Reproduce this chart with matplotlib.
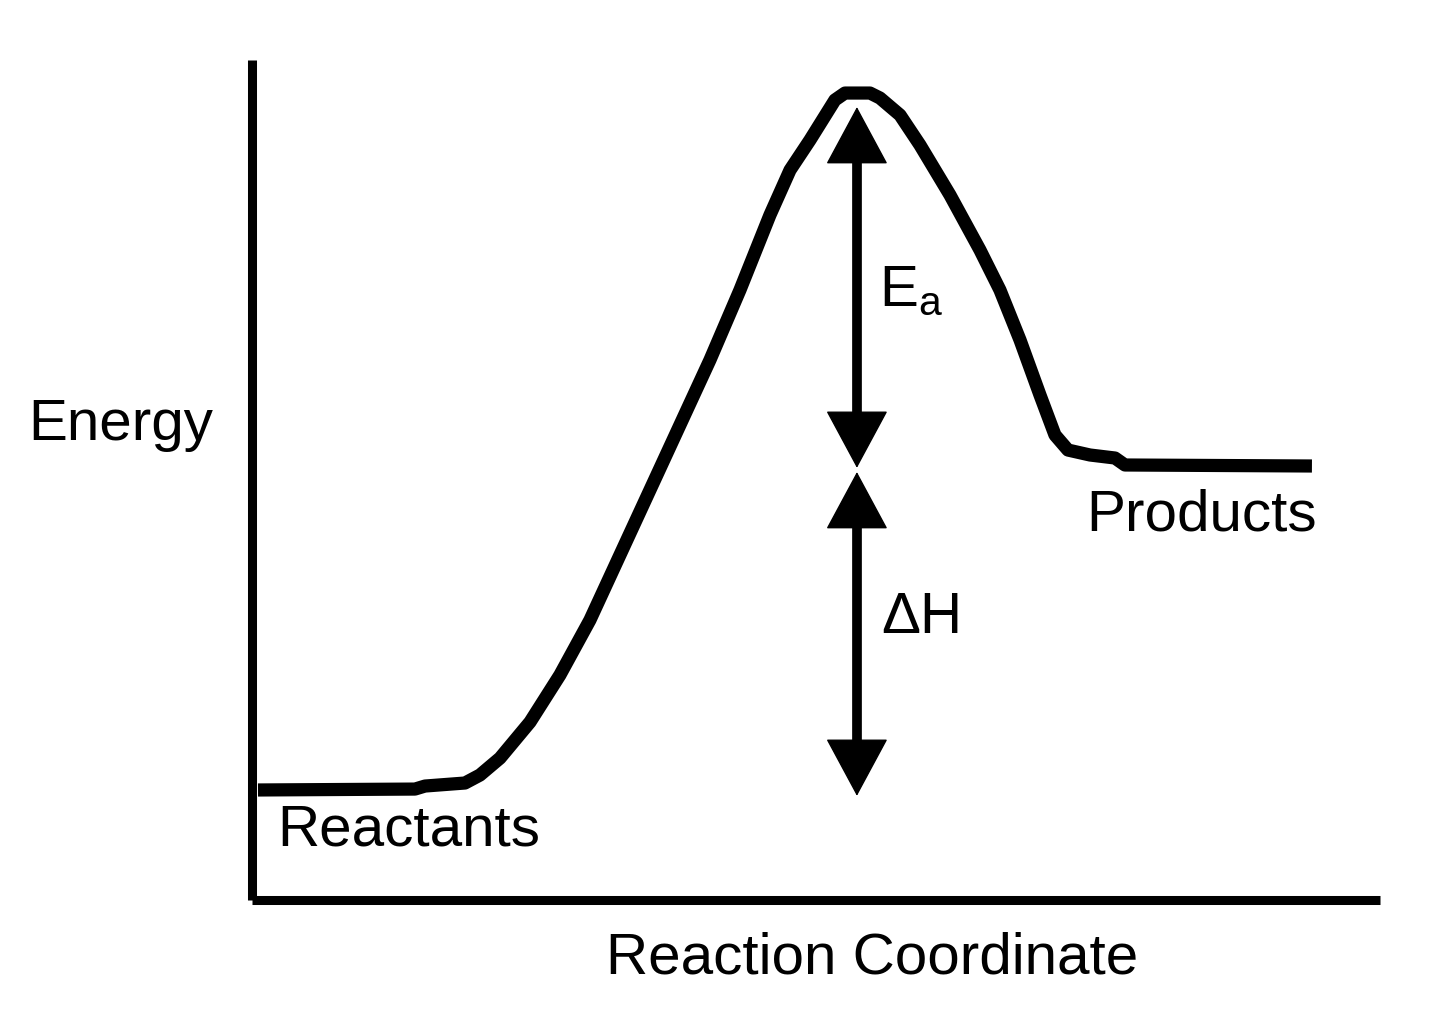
import matplotlib
matplotlib.use("Agg")
import matplotlib.pyplot as plt
from matplotlib.patches import FancyArrowPatch

plt.rcParams['font.family'] = ['Liberation Sans', 'DejaVu Sans']
plt.rcParams['mathtext.fontset'] = 'custom'
plt.rcParams['mathtext.rm'] = 'Liberation Sans'
plt.rcParams['mathtext.it'] = 'Liberation Sans'

# Reaction coordinate (0-100) and energy (0-100) along the reaction path
coord = [0.53, 14.45, 15.34, 18.88, 20.21, 21.99, 24.65, 27.30, 29.96, 32.62,
         35.28, 37.94, 40.60, 43.26, 45.92, 47.70, 49.47, 51.68, 52.57, 54.79,
         55.67, 57.45, 59.22, 61.88, 64.54, 66.31, 68.09, 69.86, 71.19, 72.34,
         74.29, 76.51, 77.39, 93.97]
energy = [13.10, 13.21, 13.57, 13.93, 14.88, 16.90, 21.19, 26.79, 33.33, 41.07,
          48.81, 56.55, 64.29, 72.62, 81.55, 86.90, 90.48, 95.24, 96.07, 96.07,
          95.48, 93.45, 89.88, 83.93, 77.38, 72.62, 66.67, 60.12, 55.36, 53.57,
          52.98, 52.62, 51.79, 51.67]

# Arrows: (x, y_top, y_bottom)
arrow_x = 53.63
ea_top, ea_bottom = 94.4, 51.45
dh_top, dh_bottom = 50.95, 12.4

fig = plt.figure(figsize=(14.4, 10.14), dpi=100)
ax = fig.add_axes([0.175, 0.1124, 0.7833, 0.8284])
ax.set_xlim(0, 100)
ax.set_ylim(0, 100)
for s in ['top', 'right']:
    ax.spines[s].set_visible(False)
for s in ['left', 'bottom']:
    ax.spines[s].set_linewidth(6.5)
    ax.spines[s].set_capstyle('butt')
ax.set_xticks([])
ax.set_yticks([])

ax.plot(coord, energy, color='black', lw=9.5, solid_joinstyle='round',
        solid_capstyle='butt', clip_on=False)

def dbl_arrow(x, ytop, ybot):
    ax.plot([x, x], [ytop - 3, ybot + 3], color='black', lw=7, solid_capstyle='butt')
    p = FancyArrowPatch((x, ybot), (x, ytop),
                        arrowstyle='<|-|>,head_length=3.9,head_width=2.1',
                        mutation_scale=10, lw=1, color='black',
                        shrinkA=0, shrinkB=0)
    ax.add_patch(p)

dbl_arrow(arrow_x, ea_top, ea_bottom)
dbl_arrow(arrow_x, dh_top, dh_bottom)

fs = 42
ax.text(55.6, 72.5, r'$\mathrm{E_a}$', fontsize=fs, ha='left', va='center')
ax.text(55.8, 33.6, 'ΔH', fontsize=fs, ha='left', va='center')
ax.text(2.2, 8.3, 'Reactants', fontsize=fs, ha='left', va='center')
ax.text(74.0, 45.8, 'Products', fontsize=fs, ha='left', va='center')

fig.text(28 / 1440, 1 - 425 / 1014, 'Energy', fontsize=fs, ha='left', va='center')
fig.text(872 / 1440, 1 - 958 / 1014, 'Reaction Coordinate', fontsize=fs,
         ha='center', va='center')

fig.savefig('out.png', dpi=100)
